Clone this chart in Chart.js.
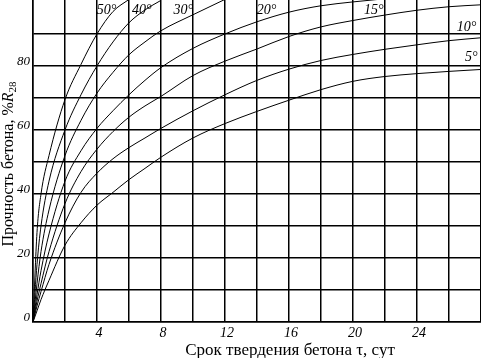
<!DOCTYPE html>
<html><head><meta charset="utf-8">
<script src="https://cdn.jsdelivr.net/npm/chart.js@4.4.1/dist/chart.umd.min.js"></script>
<style>html,body{margin:0;padding:0;background:#fff;overflow:hidden}canvas{display:block}</style>
</head><body>
<canvas id="c" width="481" height="358"></canvas>
<script>
// ---- data ----
const days = [0,0.25,0.5,1,2,3,4,5,6,7,8,10,12,14,16,18,20,22,24,26,28];
const temps = ['5°','10°','15°','20°','30°','40°','50°'];
const s5  = [0,3.5,7,13,24,31,36.5,40.5,44.5,48,51.5,57.5,62,65.8,69.3,72.6,75.2,76.7,77.6,78.3,78.9];
const s10 = [0,5,9.5,18,31,40.5,46.5,51,54.5,57.5,60.5,66,71,75.5,79,81.7,83.6,85.2,86.6,87.9,88.8];
const s15 = [0,6.5,12,22,37,47,54,59.5,64,67.5,70.5,77,81.5,85.3,89.2,92.2,94.2,95.9,97.4,98.5,99.1];
const s20 = [0,8.5,16,27.5,44,53.5,60.5,66,71,75.5,79.5,85.5,90,93.8,96.8,98.8,100,101,null,null,null];
const s30 = [0,12,22,35,52,63,71.5,78,83.5,87.5,91,96,100.8,null,null,null,null,null,null,null,null];
const s40 = [0,18,30,44,60,71,80,87.5,93.5,97.5,100.5,null,null,null,null,null,null,null,null,null,null];
const s50 = [0,28,40,52,69.5,80.5,90,97,100.8,null,null,null,null,null,null,null,null,null,null,null,null];
const series = [s5,s10,s15,s20,s30,s40,s50];
const xTickLabels = [4,8,12,16,20,24];
const yTickLabels = [0,20,40,60,80];
// label anchors (day, percent) for the curve captions
const labelDay = [27.4,27.1,21.3,14.6,9.4,6.8,4.6];
const labelPct = [82.6,92,97.3,97.3,97.3,97.3,97.3];

const serif = '"Liberation Serif","Times New Roman",serif';

const datasets = series.map((vals,i)=>({
  label: temps[i],
  data: days.map((d,k)=>({x:d,y:vals[k]})).filter(p=>p.y!==null),
  borderColor:'#000', borderWidth:1, pointRadius:0, fill:false,
  cubicInterpolationMode:'monotone'
}));

const textPlugin = {
  id:'texts',
  afterDraw(chart){
    const {ctx, scales:{x,y}} = chart;
    ctx.save();
    ctx.fillStyle = '#000';
    ctx.textAlign = 'center';
    ctx.textBaseline = 'middle';
    ctx.font = 'italic 14px ' + serif;
    temps.forEach((t,i)=>{
      ctx.fillText(t, x.getPixelForValue(labelDay[i]), y.getPixelForValue(labelPct[i]));
    });
    // x title
    ctx.font = '17px ' + serif;
    ctx.textBaseline = 'alphabetic';
    ctx.fillText('Срок твердения бетона τ, сут', 290, 355);
    // y title (rotated)
    const main = 'Прочность бетона, %';
    ctx.font = '16px ' + serif; const w1 = ctx.measureText(main).width;
    ctx.font = 'italic 16px ' + serif; const w2 = ctx.measureText('R').width;
    ctx.font = '11px ' + serif; const w3 = ctx.measureText('28').width;
    const W = w1 + w2 + w3;
    ctx.translate(12.5, 164);
    ctx.rotate(-Math.PI/2);
    ctx.textAlign = 'left';
    let u = -W/2;
    ctx.font = '16px ' + serif; ctx.fillText(main, u, 0); u += w1;
    ctx.font = 'italic 16px ' + serif; ctx.fillText('R', u, 0); u += w2;
    ctx.font = '11px ' + serif; ctx.fillText('28', u, 3);
    ctx.restore();
  }
};

new Chart(document.getElementById('c'), {
  type:'line',
  data:{datasets},
  options:{
    responsive:false, animation:false, devicePixelRatio:1,
    layout:{padding:0},
    plugins:{legend:{display:false}, tooltip:{enabled:false}},
    scales:{
      x:{
        type:'linear', min:0, max:28,
        ticks:{stepSize:2, autoSkip:false, maxRotation:0, minRotation:0, padding:3, labelOffset:2,
          color:'#000', font:{family:serif, size:14, style:'italic'},
          callback:v=> xTickLabels.includes(v) ? String(v) : ''},
        grid:{color:'#000', lineWidth:1.5, drawTicks:false},
        border:{color:'#000', width:1.5},
        afterFit(a){ a.height = 36; a.paddingLeft = 0; a.paddingRight = 0; }
      },
      y:{
        type:'linear', min:0, max:100.6,
        ticks:{stepSize:10, autoSkip:false, padding:3, labelOffset:-4,
          color:'#000', font:{family:serif, size:13, style:'italic'},
          callback:v=> yTickLabels.includes(v) ? String(v) : ''},
        afterBuildTicks(a){ a.ticks = a.ticks.filter(t=> t.value % 10 === 0 && t.value < 100); },
        grid:{color:'#000', lineWidth:1.5, drawTicks:false},
        border:{color:'#000', width:1.5},
        afterFit(a){ a.width = 33; a.paddingTop = 0; a.paddingBottom = 0; }
      }
    }
  },
  plugins:[textPlugin]
});
</script>
</body></html>
